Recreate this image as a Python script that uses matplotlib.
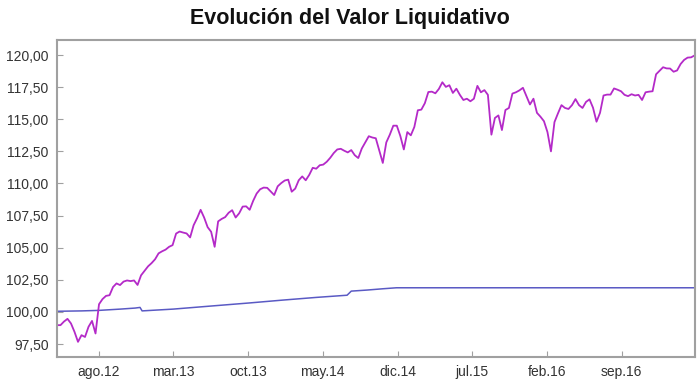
import pandas as pd
import matplotlib
matplotlib.use("Agg")
import matplotlib.pyplot as plt
from matplotlib.ticker import FuncFormatter

plt.rcParams['font.family'] = ['Liberation Sans', 'DejaVu Sans']

# valor liquidativo del fondo, un dato cada 10 dias desde 2012-04-03
fondo_inicio = "2012-04-03"
fondo = [
    98.97, 98.97, 99.25, 99.46, 99.10, 98.45, 97.67, 98.19, 98.05, 98.84,
    99.30, 98.32, 100.60, 101.00, 101.25, 101.30, 101.94, 102.22, 102.09, 102.36,
    102.45, 102.40, 102.45, 102.10, 102.85, 103.20, 103.55, 103.80, 104.10, 104.56,
    104.72, 104.85, 105.07, 105.20, 106.10, 106.26, 106.18, 106.11, 105.80, 106.75,
    107.30, 107.95, 107.35, 106.60, 106.24, 105.07, 107.05, 107.24, 107.38, 107.72,
    107.92, 107.35, 107.68, 108.20, 108.22, 107.95, 108.65, 109.22, 109.55, 109.68,
    109.66, 109.38, 109.10, 109.78, 110.03, 110.23, 110.30, 109.36, 109.60, 110.25,
    110.55, 110.25, 110.67, 111.22, 111.15, 111.42, 111.47, 111.69, 112.00, 112.37,
    112.65, 112.70, 112.55, 112.42, 112.60, 112.20, 111.98, 112.72, 113.20, 113.68,
    113.58, 113.52, 112.55, 111.60, 113.20, 113.80, 114.50, 114.50, 113.70, 112.65,
    114.00, 113.75, 114.40, 115.70, 115.75, 116.25, 117.12, 117.15, 117.02, 117.36,
    117.88, 117.52, 117.65, 117.05, 117.38, 116.90, 116.50, 116.60, 116.40, 116.60,
    117.60, 117.10, 117.27, 116.90, 113.80, 115.10, 115.30, 114.16, 115.72, 115.88,
    117.00, 117.10, 117.25, 117.45, 116.80, 116.15, 116.60, 115.50, 115.20, 114.85,
    114.00, 112.50, 114.78, 115.46, 116.10, 115.88, 115.80, 116.10, 116.57, 116.10,
    115.88, 116.35, 116.55, 115.90, 114.81, 115.50, 116.85, 116.92, 116.92, 117.40,
    117.30, 117.18, 116.90, 116.80, 116.95, 116.85, 116.90, 116.50, 117.10, 117.15,
    117.18, 118.50, 118.78, 119.05, 118.96, 118.95, 118.70, 118.80, 119.30, 119.62,
    119.80, 119.82, 119.97,
]

# indice de referencia (escalonado)
ref_fechas = ["2012-04-03", "2012-06-13", "2012-08-01", "2012-10-01", "2012-11-12",
              "2012-11-26", "2012-12-02", "2013-03-01", "2013-06-13", "2013-10-05",
              "2014-01-07", "2014-04-13", "2014-07-10", "2014-07-22", "2014-09-04",
              "2014-10-19", "2014-11-28", "2017-03-28"]
ref_valores = [100.05, 100.08, 100.12, 100.22, 100.30, 100.35, 100.08, 100.22, 100.45,
               100.70, 100.92, 101.13, 101.30, 101.62, 101.70, 101.80, 101.88, 101.88]

tick_fechas = ["2012-08-01", "2013-03-01", "2013-10-01", "2014-05-01",
               "2014-12-01", "2015-07-01", "2016-02-01", "2016-09-01"]
tick_textos = ["ago.12", "mar.13", "oct.13", "may.14", "dic.14", "jul.15", "feb.16", "sep.16"]
y_ticks = [97.5, 100, 102.5, 105, 107.5, 110, 112.5, 115, 117.5, 120]

fechas = pd.date_range(fondo_inicio, periods=len(fondo), freq="10D")

fig = plt.figure(figsize=(7, 3.84), dpi=100)
ax = fig.add_axes([0.0814, 0.0703, 0.9114, 0.8255])

ax.plot(pd.to_datetime(ref_fechas), ref_valores, color="#5a5ac4", lw=1.1)
ax.plot(fechas, fondo, color="#b42ac8", lw=1.3)

ax.set_xlim(pd.Timestamp("2012-04-03"), pd.Timestamp("2017-03-29"))
ax.set_ylim(96.49, 121.17)

ax.set_xticks(pd.to_datetime(tick_fechas))
ax.set_xticklabels(tick_textos)
ax.set_yticks(y_ticks)
ax.yaxis.set_major_formatter(FuncFormatter(lambda v, p: f"{v:.2f}".replace(".", ",")))

ax.tick_params(direction="in", length=4, color="#a0a0a0", labelsize=10,
               labelcolor="#333333", pad=6)
for s in ax.spines.values():
    s.set_color("#a0a0a0")
    s.set_linewidth(1.5)

fig.text(0.5, 0.953, "Evolución del Valor Liquidativo", ha="center", va="center",
         fontsize=15.5, fontweight="bold", color="#111111")

fig.savefig("out.png", dpi=100)
